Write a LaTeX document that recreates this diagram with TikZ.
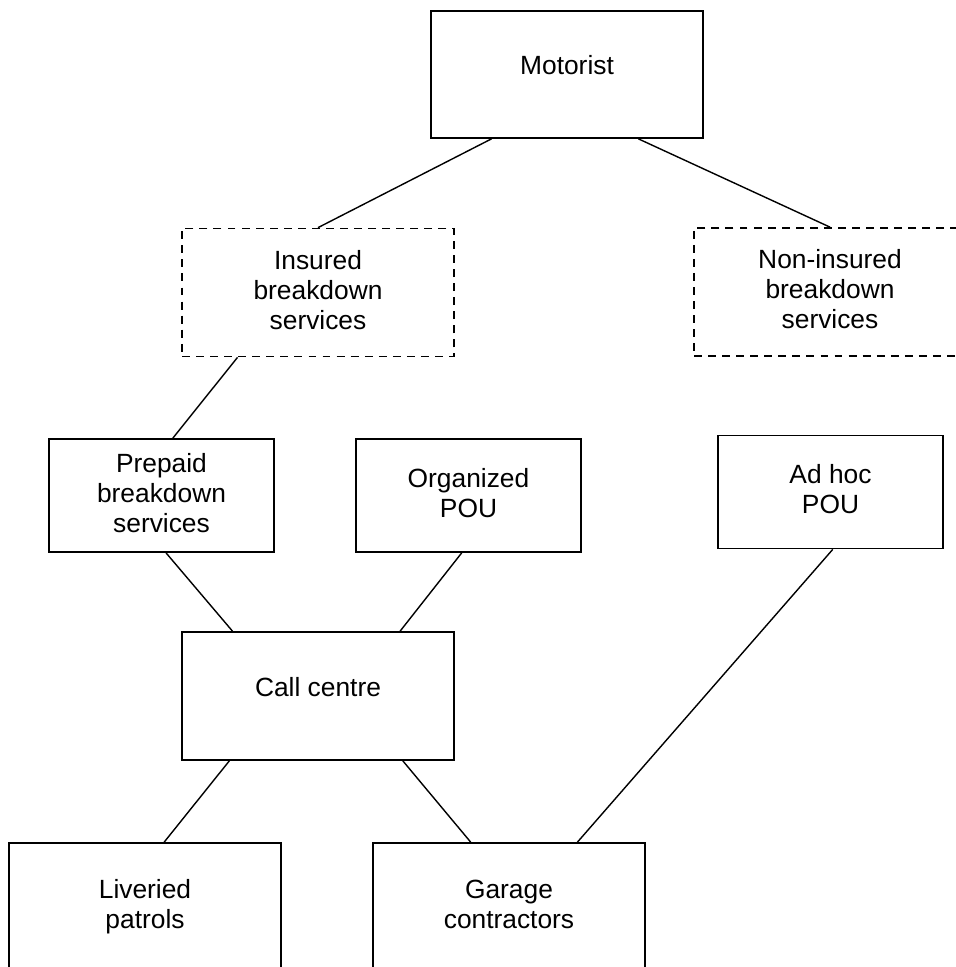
\documentclass[tikz,border=0pt]{standalone}
\usepackage{fontspec}
\setmainfont{Liberation Sans}
\usetikzlibrary{calc}
\tikzset{
    box/.style={draw, line width=1pt, align=center, minimum width=5.44cm, minimum height=2.56cm, inner sep=2pt, text depth=3.2pt},
    smallbox/.style={box, minimum width=4.5cm, minimum height=2.26cm},
    dashbox/.style={box, dash pattern=on 4.5pt off 3.5pt},
    oneline/.style={text height=8pt, text depth=8pt},
    link/.style={line width=0.8pt}
}

\begin{document}
\begin{tikzpicture}[x=0.02cm, y=-0.02cm, font=\fontsize{15}{17}\selectfont]
    % Fix the page to the picture size
    \useasboundingbox (0,0) rectangle (956,967);
    \clip (0,0) rectangle (956,967);
    % Top level
    \node[box, oneline, minimum height=2.54cm] (motorist) at (567,74.5) {Motorist};
    % Insurance split
    \node[dashbox] (insured) at (318,292.5) {Insured\\breakdown\\services};
    \node[dashbox] (noninsured) at (830,292) {Non-insured\\breakdown\\services};
    % Service providers
    \node[smallbox] (prepaid) at (161.5,495.5) {Prepaid\\breakdown\\services};
    \node[smallbox] (organized) at (468.5,495.5) {Organized\\POU};
    \node[smallbox] (adhoc) at (830.5,492) {Ad hoc\\POU};
    % Dispatch
    \node[box, oneline] (callcentre) at (318,696) {Call centre};
    % Bottom level (cut off by the page edge)
    \node[box] (liveried) at (145,907) {Liveried\\patrols};
    \node[box] (garage) at (509,907) {Garage\\contractors};

    % Connect the boxes: node/fraction along its bottom edge to node/fraction along its top edge
    \foreach \a/\fa/\b/\fb in {motorist/0.224/insured/0.5, motorist/0.761/noninsured/0.5,
        insured/0.206/prepaid/0.55, prepaid/0.52/callcentre/0.1875, organized/0.47/callcentre/0.8,
        adhoc/0.51/garage/0.75, callcentre/0.176/liveried/0.57, callcentre/0.81/garage/0.36} {
        \draw[link] ($(\a.south west)!\fa!(\a.south east)$) -- ($(\b.north west)!\fb!(\b.north east)$);
    }
\end{tikzpicture}
\end{document}
